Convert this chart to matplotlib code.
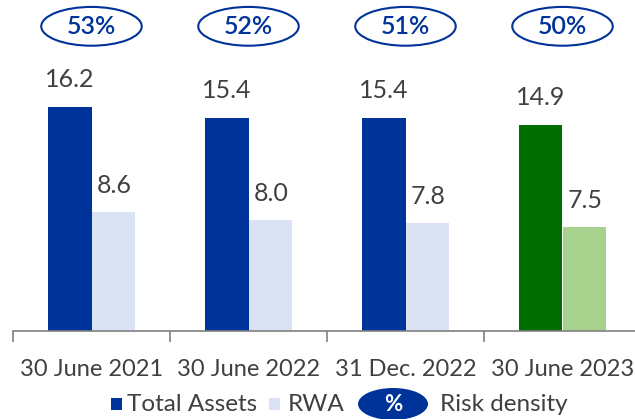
import matplotlib
matplotlib.use("Agg")
import matplotlib.pyplot as plt
from matplotlib.patches import Ellipse, Rectangle
import numpy as np

# data
periods = ["30 June 2021", "30 June 2022", "31 Dec. 2022", "30 June 2023"]
total_assets = [16.2, 15.4, 15.4, 14.9]
rwa = [8.6, 8.0, 7.8, 7.5]
risk_density = ["53%", "52%", "51%", "50%"]

dark_blue = "#003399"
light_blue = "#DAE3F3"
green = "#006E00"
light_green = "#A9D18E"
text_grey = "#404040"

plt.rcParams['font.family'] = ['Lato', 'DejaVu Sans']

W, H = 635, 419
fig = plt.figure(figsize=(W / 100, H / 100), dpi=100)
ax = fig.add_axes([13 / W, 88 / H, 628 / W, 331 / H])

x = np.arange(len(periods))
bw = 0.275
ta_colors = [dark_blue] * 3 + [green]
rwa_colors = [light_blue] * 3 + [light_green]

b1 = ax.bar(x - bw / 2, total_assets, bw, color=ta_colors)
b2 = ax.bar(x + bw / 2 + 0.005, rwa, bw, color=rwa_colors)

for bars, vals in ((b1, total_assets), (b2, rwa)):
    for r, v in zip(bars, vals):
        ax.annotate(f"{v:.1f}", (r.get_x() + r.get_width() / 2, v),
                    xytext=(0, 11), textcoords="offset points",
                    ha="center", va="bottom", fontsize=18, color=text_grey)

ax.set_xlim(-0.5, 3.5)
ax.set_ylim(0, 23.9)

# risk density ovals
for xi, rd in zip(x, risk_density):
    ax.add_patch(Ellipse((xi, 22.0), 0.64, 2.8, facecolor="white",
                         edgecolor=dark_blue, lw=1.5, clip_on=False))
    ax.text(xi, 22.0, rd, ha="center", va="center", fontsize=18,
            color=dark_blue, fontweight="semibold")

for s in ["top", "right", "left"]:
    ax.spines[s].set_visible(False)
ax.spines["bottom"].set_color("#808080")
ax.spines["bottom"].set_linewidth(1.2)
ax.set_yticks([])
ax.set_xticks(np.arange(-0.5, 4.0, 1.0))
ax.set_xticklabels([])
ax.tick_params(axis="x", which="major", length=8, width=1.2, color="#808080", direction="out")
ax.set_xticks(x, minor=True)
ax.set_xticklabels(periods, minor=True, fontsize=17, color=text_grey)
ax.tick_params(axis="x", which="minor", length=0, pad=20)

# legend
def fx(px):
    return px / W

def fy(py):
    return 1 - py / H

ly = 404
fig.patches.append(Rectangle((fx(111), fy(ly + 6)), 11 / W, 12 / H, transform=fig.transFigure,
                             facecolor=dark_blue, edgecolor="none"))
fig.text(fx(127), fy(ly), "Total Assets", fontsize=17.5, color=text_grey, va="center")
fig.patches.append(Rectangle((fx(269), fy(ly + 6)), 11 / W, 12 / H, transform=fig.transFigure,
                             facecolor=light_blue, edgecolor="none"))
fig.text(fx(288), fy(ly), "RWA", fontsize=17.5, color=text_grey, va="center")
fig.patches.append(Ellipse((fx(393), fy(ly)), 70 / W, 32 / H, transform=fig.transFigure,
                           facecolor=dark_blue, edgecolor="none"))
fig.text(fx(393), fy(ly), "%", fontsize=16, color="white", fontweight="bold",
         ha="center", va="center")
fig.text(fx(440), fy(ly), "Risk density", fontsize=17.5, color=text_grey, va="center")

fig.savefig("out.png", dpi=100)
